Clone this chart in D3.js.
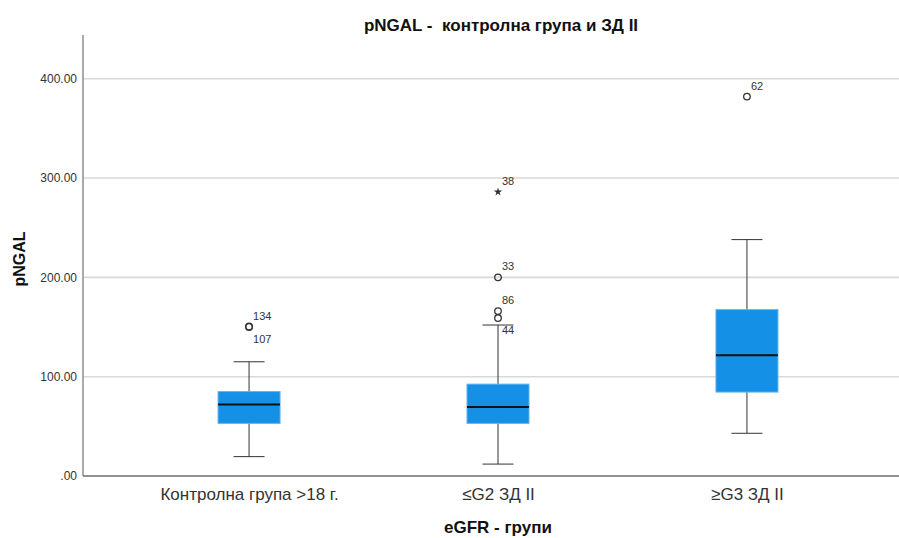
<!DOCTYPE html>
<html>
<head>
<meta charset="utf-8">
<script src="https://cdn.jsdelivr.net/npm/d3@7"></script>
<style>
  body { margin: 0; background: #fff; }
  text { font-family: "Liberation Sans", Arial, sans-serif; }
</style>
</head>
<body>
<div class="chart"></div>
<script>
// groups on the x axis
var categories = ["Контролна група >18 г.", "≤G2 ЗД II", "≥G3 ЗД II"];

// box plot summary per group
var whiskerLow = [19.5, 12, 43];
var q1 = [53, 53, 84.5];
var median = [72, 69.5, 121.5];
var q3 = [85, 92.5, 167.5];
var whiskerHigh = [115, 152, 238];

// outliers / extremes with their case numbers
var outlierGroup = [0, 0, 1, 1, 1, 1, 2];
var outlierValue = [150.5, 150, 286, 200, 166, 159, 382];
var outlierCase = ["134", "107", "38", "33", "86", "44", "62"];
var outlierShape = ["circle", "circle", "star", "circle", "circle", "circle", "circle"];
var outlierLabelSide = ["up", "down", "up", "up", "up", "down", "up"];

var yTicks = [0, 100, 200, 300, 400];

var svgWidth = 899;
var svgHeight = 538;
var margin = {top: 35, right: -14, bottom: 62, left: 83};
var width = svgWidth - margin.left - margin.right;
var height = svgHeight - margin.top - margin.bottom;

var svg = d3.select(".chart")
  .append("svg")
  .attr("width", svgWidth)
  .attr("height", svgHeight);

var chartGroup = svg.append("g")
  .attr("transform", `translate(${margin.left}, ${margin.top})`);

var xScale = d3.scalePoint()
  .domain(categories)
  .range([0, width])
  .padding(0.667);

var yScale = d3.scaleLinear()
  .domain([0, 444])
  .range([height, 0]);

var boxWidth = 62;

// gridlines
chartGroup.selectAll(".grid")
  .data(yTicks.filter(d => d > 0))
  .enter()
  .append("line")
  .attr("x1", 0)
  .attr("x2", svgWidth - margin.left)
  .attr("y1", d => yScale(d))
  .attr("y2", d => yScale(d))
  .attr("stroke", "#d9d9d9")
  .attr("stroke-width", 1.6);

// y axis
var leftAxis = d3.axisLeft(yScale)
  .tickValues(yTicks)
  .tickSize(0)
  .tickPadding(6)
  .tickFormat(d => d === 0 ? ".00" : d3.format(".2f")(d));

var yAxis = chartGroup.append("g").call(leftAxis);
yAxis.select(".domain").remove();
yAxis.selectAll("text")
  .attr("fill", "#333")
  .style("font-size", "12px");

chartGroup.append("line")
  .attr("x1", 0).attr("x2", 0)
  .attr("y1", 0).attr("y2", height)
  .attr("stroke", "#8c8c8c")
  .attr("stroke-width", 1.5);

// x axis
var bottomAxis = d3.axisBottom(xScale).tickSize(0).tickPadding(12);
var xAxis = chartGroup.append("g")
  .attr("transform", `translate(0, ${height})`)
  .call(bottomAxis);
xAxis.select(".domain").remove();
xAxis.selectAll("text")
  .attr("fill", "#333")
  .style("font-size", "17px");

chartGroup.append("line")
  .attr("x1", 0).attr("x2", svgWidth - margin.left)
  .attr("y1", height).attr("y2", height)
  .attr("stroke", "#6e6e6e")
  .attr("stroke-width", 1.5);

// boxes
var boxes = chartGroup.selectAll(".box")
  .data(categories)
  .enter()
  .append("g")
  .attr("class", "box");

// whisker stems
boxes.append("line")
  .attr("x1", d => xScale(d))
  .attr("x2", d => xScale(d))
  .attr("y1", (d, i) => yScale(whiskerLow[i]))
  .attr("y2", (d, i) => yScale(q1[i]))
  .attr("stroke", "#333")
  .attr("stroke-width", 1);

boxes.append("line")
  .attr("x1", d => xScale(d))
  .attr("x2", d => xScale(d))
  .attr("y1", (d, i) => yScale(q3[i]))
  .attr("y2", (d, i) => yScale(whiskerHigh[i]))
  .attr("stroke", "#333")
  .attr("stroke-width", 1);

// whisker caps
[whiskerLow, whiskerHigh].forEach(function(arr) {
  boxes.append("line")
    .attr("x1", d => xScale(d) - boxWidth / 4)
    .attr("x2", d => xScale(d) + boxWidth / 4)
    .attr("y1", (d, i) => yScale(arr[i]))
    .attr("y2", (d, i) => yScale(arr[i]))
    .attr("stroke", "#333")
    .attr("stroke-width", 1);
});

boxes.append("rect")
  .attr("x", d => xScale(d) - boxWidth / 2)
  .attr("width", boxWidth)
  .attr("y", (d, i) => yScale(q3[i]))
  .attr("height", (d, i) => yScale(q1[i]) - yScale(q3[i]))
  .attr("fill", "#1490e6")
  .attr("stroke", "#62b2f0")
  .attr("stroke-width", 1);

boxes.append("line")
  .attr("x1", d => xScale(d) - boxWidth / 2)
  .attr("x2", d => xScale(d) + boxWidth / 2)
  .attr("y1", (d, i) => yScale(median[i]))
  .attr("y2", (d, i) => yScale(median[i]))
  .attr("stroke", "#111")
  .attr("stroke-width", 2);

// outliers
var outliers = outlierValue.map((v, i) => ({
  x: xScale(categories[outlierGroup[i]]),
  y: yScale(v),
  label: outlierCase[i],
  shape: outlierShape[i],
  side: outlierLabelSide[i]
}));

chartGroup.selectAll(".outlier")
  .data(outliers.filter(d => d.shape === "circle"))
  .enter()
  .append("circle")
  .attr("cx", d => d.x)
  .attr("cy", d => d.y)
  .attr("r", 3.3)
  .attr("fill", "none")
  .attr("stroke", "#333")
  .attr("stroke-width", 1.3);

chartGroup.selectAll(".extreme")
  .data(outliers.filter(d => d.shape === "star"))
  .enter()
  .append("path")
  .attr("transform", d => `translate(${d.x}, ${d.y})`)
  .attr("d", d3.symbol(d3.symbolStar, 22))
  .attr("fill", "#333");

chartGroup.selectAll(".olabel")
  .data(outliers)
  .enter()
  .append("text")
  .attr("x", d => d.x + 4)
  .attr("y", d => d.side === "up" ? d.y - 7 : d.y + 16)
  .attr("fill", "#333")
  .style("font-size", "11px")
  .text(d => d.label);

// title and axis labels
svg.append("text")
  .attr("x", 501)
  .attr("y", 31)
  .attr("text-anchor", "middle")
  .style("font-size", "17px")
  .style("font-weight", "bold")
  .style("white-space", "pre")
  .attr("fill", "#111")
  .text("pNGAL -  контролна група и ЗД II");

svg.append("text")
  .attr("transform", "translate(25, 259) rotate(-90)")
  .attr("text-anchor", "middle")
  .style("font-size", "16px")
  .style("font-weight", "bold")
  .attr("fill", "#111")
  .text("pNGAL");

svg.append("text")
  .attr("x", 498)
  .attr("y", 533)
  .attr("text-anchor", "middle")
  .style("font-size", "17px")
  .style("font-weight", "bold")
  .attr("fill", "#111")
  .text("eGFR - групи");
</script>
</body>
</html>
